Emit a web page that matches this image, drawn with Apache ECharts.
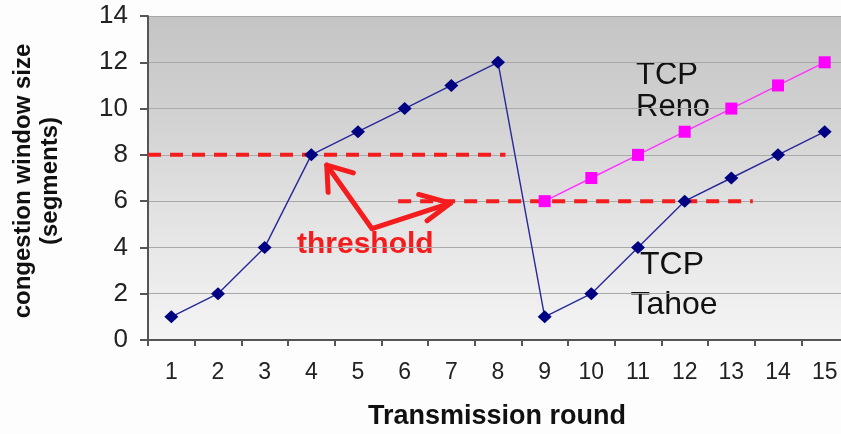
<!DOCTYPE html>
<html>
<head>
<meta charset="utf-8">
<script src="https://cdn.jsdelivr.net/npm/echarts@6/dist/echarts.min.js"></script>
<style>
  html, body { margin: 0; padding: 0; background: #fdfdfd; overflow: hidden; }
  #wrap { width: 841px; height: 434px; overflow: hidden; }
  /* the plot runs slightly past the right edge of the page */
  #chart { width: 848px; height: 434px; }
</style>
</head>
<body>
<div id="wrap"><div id="chart"></div></div>
<script>
// Transmission rounds (category axis)
const rounds = ['1','2','3','4','5','6','7','8','9','10','11','12','13','14','15'];

// Congestion window size per round, in segments
const tahoe = [1, 2, 4, 8, 9, 10, 11, 12, 1, 2, 4, 6, 7, 8, 9];
const reno  = [null, null, null, null, null, null, null, null, 6, 7, 8, 9, 10, 11, 12];

// Value axis range
const yMin = 0, yMax = 14, yStep = 2;

// Threshold levels, drawn on a hidden value x axis spanning the rounds (0.5 .. 15.5)
const thresholdHigh = [[0.5, 8], [8.16, 8]];
const thresholdLow  = [[5.86, 6], [13.46, 6]];

// "threshold" callout arrows, in the same coordinates
const arrowShaft = [[4.33, 7.56], [5.30, 4.81], [6.98, 5.91]];
const arrowHeadA = [[4.90, 7.22], [4.33, 7.56], [4.36, 6.38]];
const arrowHeadB = [[6.30, 6.29], [6.98, 5.91], [6.48, 5.15]];

const chart = echarts.init(document.getElementById('chart'), null, { renderer: 'canvas' });

const FONT = '"Liberation Sans", Arial, sans-serif';
const RED = '#f41c1c';

function overlayLine(name, data, width, dashed) {
  return {
    name: name,
    type: 'line',
    xAxisIndex: 1,
    yAxisIndex: 0,
    data: data,
    symbol: 'none',
    silent: true,
    z: 1,
    lineStyle: {
      color: RED,
      width: width,
      type: dashed ? [13, 9] : 'solid',
      cap: dashed ? 'butt' : 'round',
      join: 'round'
    }
  };
}

chart.setOption({
  animation: false,
  backgroundColor: '#fdfdfd',
  grid: {
    left: 148, right: 0, top: 16, bottom: 94,
    show: true,
    borderWidth: 0,
    backgroundColor: new echarts.graphic.LinearGradient(0, 0, 0, 1, [
      { offset: 0, color: '#c4c4c4' },
      { offset: 0.3, color: '#d1d1d1' },
      { offset: 0.6, color: '#e2e2e2' },
      { offset: 1, color: '#f4f4f4' }
    ])
  },
  xAxis: [
    {
      type: 'category',
      data: rounds,
      boundaryGap: true,
      axisLine: { show: true, lineStyle: { color: '#555', width: 2 } },
      axisTick: { show: true, length: 6, lineStyle: { color: '#555', width: 2 } },
      axisLabel: { color: '#222', fontFamily: FONT, fontSize: 23, margin: 21 },
      splitLine: { show: false }
    },
    {
      type: 'value',
      min: 0.5, max: 15.5,
      show: false
    }
  ],
  yAxis: {
    type: 'value',
    min: yMin, max: yMax, interval: yStep,
    axisLine: { show: true, lineStyle: { color: '#555', width: 2 } },
    axisTick: { show: true, length: 8, lineStyle: { color: '#555', width: 2 } },
    axisLabel: { color: '#222', fontFamily: FONT, fontSize: 26, margin: 20 },
    splitLine: { show: true, lineStyle: { color: '#a9a9a9', width: 1 } }
  },
  series: [
    overlayLine('threshold 8', thresholdHigh, 4, true),
    overlayLine('threshold 6', thresholdLow, 4, true),
    overlayLine('arrow', arrowShaft, 5, false),
    overlayLine('arrow head a', arrowHeadA, 5, false),
    overlayLine('arrow head b', arrowHeadB, 5, false),
    {
      name: 'TCP Tahoe',
      type: 'line',
      data: tahoe,
      symbol: 'diamond',
      symbolSize: [14, 13],
      z: 3,
      itemStyle: { color: '#000083' },
      lineStyle: { color: '#28289a', width: 1.4 }
    },
    {
      name: 'TCP Reno',
      type: 'line',
      data: reno,
      symbol: 'rect',
      symbolSize: 12,
      z: 3,
      itemStyle: { color: '#ff00ff' },
      lineStyle: { color: '#ff33ff', width: 1.4 }
    }
  ],
  graphic: [
    {
      type: 'text', x: 37, y: 181, rotation: Math.PI / 2,
      style: {
        text: 'congestion window size\n(segments)',
        font: 'bold 24px ' + FONT, fill: '#111', lineHeight: 27,
        align: 'center', verticalAlign: 'middle',
        textAlign: 'center', textVerticalAlign: 'middle'
      }
    },
    {
      type: 'text', x: 497, y: 417,
      style: {
        text: 'Transmission round', font: 'bold 27px ' + FONT, fill: '#111',
        align: 'center', verticalAlign: 'middle',
        textAlign: 'center', textVerticalAlign: 'middle'
      }
    },
    {
      type: 'text', x: 297, y: 245,
      style: {
        text: 'threshold', font: 'bold 30px ' + FONT, fill: RED,
        align: 'left', verticalAlign: 'middle',
        textAlign: 'left', textVerticalAlign: 'middle'
      }
    },
    {
      type: 'text', x: 636, y: 75,
      style: {
        text: 'TCP', font: '31px ' + FONT, fill: '#111',
        align: 'left', verticalAlign: 'middle',
        textAlign: 'left', textVerticalAlign: 'middle'
      }
    },
    {
      type: 'text', x: 636, y: 107,
      style: {
        text: 'Reno', font: '31px ' + FONT, fill: '#111',
        align: 'left', verticalAlign: 'middle',
        textAlign: 'left', textVerticalAlign: 'middle'
      }
    },
    {
      type: 'text', x: 672, y: 265,
      style: {
        text: 'TCP', font: '32px ' + FONT, fill: '#111',
        align: 'center', verticalAlign: 'middle',
        textAlign: 'center', textVerticalAlign: 'middle'
      }
    },
    {
      type: 'text', x: 674, y: 305,
      style: {
        text: 'Tahoe', font: '32px ' + FONT, fill: '#111',
        align: 'center', verticalAlign: 'middle',
        textAlign: 'center', textVerticalAlign: 'middle'
      }
    }
  ]
});
</script>
</body>
</html>
